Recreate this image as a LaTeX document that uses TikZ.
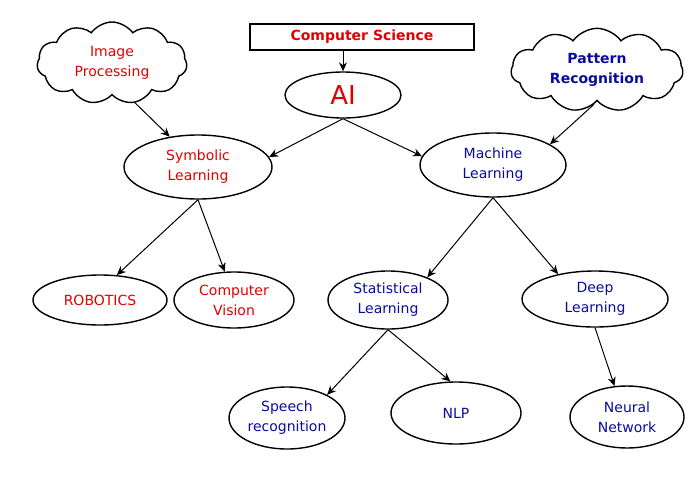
\documentclass[tikz,border=0pt]{standalone}
\usepackage{fontspec}
\setmainfont{DejaVu Sans}
\usetikzlibrary{shapes.geometric,shapes.symbols,arrows.meta}
\definecolor{rd}{RGB}{225,0,0}
\definecolor{bl}{RGB}{10,10,160}
\begin{document}
\begin{tikzpicture}[x=1pt,y=-1pt,
 el/.style={ellipse,draw,line width=1.4pt,minimum width=#1,inner sep=0pt,align=center,font=\fontsize{14}{20}\selectfont},
 cl/.style={cloud,draw,line width=1.4pt,cloud puffs=11,cloud puff arc=110,aspect=2,align=center,inner sep=0pt,font=\fontsize{14}{20}\selectfont},
 ar/.style={-{Stealth[length=9pt,width=8pt]},line width=1pt}]
\useasboundingbox (0,0) rectangle (700,480);
\node[draw,line width=1.4pt,minimum width=224,minimum height=26,text=rd,font=\bfseries\fontsize{14}{18}\selectfont] (cs) at (362,37) {Computer Science};
\node[el=116,minimum height=46,text=rd,font=\fontsize{26}{30}\selectfont] (ai) at (343,95) {AI};
\node[cl,minimum width=150,minimum height=82,text=rd] (ip) at (112,63) {Image\\Processing};
\node[cl,minimum width=172,minimum height=78,text=bl,font=\bfseries\fontsize{14}{20}\selectfont] (pr) at (597,70) {Pattern\\Recognition};
\node[el=148,minimum height=64,text=rd] (sl) at (198,167) {Symbolic\\Learning};
\node[el=146,minimum height=64,text=bl] (ml) at (493,165) {Machine\\Learning};
\node[el=134,minimum height=50,text=rd] (ro) at (100,300) {ROBOTICS};
\node[el=120,minimum height=56,text=rd] (cv) at (234,300) {Computer\\Vision};
\node[el=120,minimum height=58,text=bl] (st) at (388,300) {Statistical\\Learning};
\node[el=146,minimum height=56,text=bl] (dl) at (595,299) {Deep\\Learning};
\node[el=116,minimum height=62,text=bl] (sp) at (287,418) {Speech\\recognition};
\node[el=130,minimum height=62,text=bl] (nlp) at (456,413) {NLP};
\node[el=114,minimum height=62,text=bl] (nn) at (627,417) {Neural\\Network};
\draw[ar] (cs.south -| ai.north) -- (ai.north);
\draw[ar] (ai.south) -- (sl.8);
\draw[ar] (ai.south) -- (ml.173);
\draw[ar] (ip.-60) -- (sl.133);
\draw[ar] (pr.-95) -- (ml.20);
\draw[ar] (sl.south) -- (ro.56);
\draw[ar] (sl.south) -- (cv.108);
\draw[ar] (ml.south) -- (st.30);
\draw[ar] (ml.south) -- (dl.146);
\draw[ar] (st.south) -- (sp.30);
\draw[ar] (st.south) -- (nlp.100);
\draw[ar] (dl.south) -- (nn.112);
\end{tikzpicture}
\end{document}
